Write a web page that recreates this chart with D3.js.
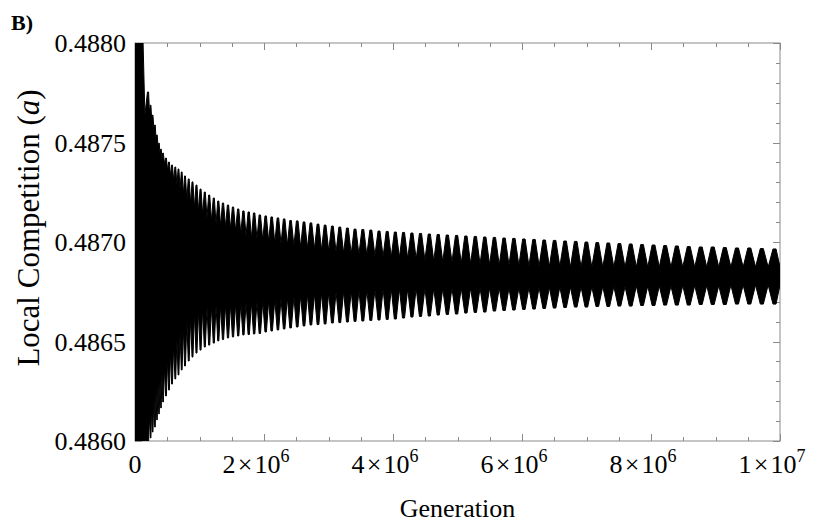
<!DOCTYPE html>
<html>
<head>
<meta charset="utf-8">
<script src="https://cdn.jsdelivr.net/npm/d3@7"></script>
<style>
  body { margin: 0; background: #fff; }
</style>
</head>
<body>
<div id="chart"></div>
<script>
// positions of the visible oscillation teeth, in millions of generations
var peakGen = [0.016, 0.054, 0.101, 0.206, 0.243, 0.274, 0.310, 0.341, 0.372, 0.403,
               0.434, 0.481, 0.527, 0.574, 0.625, 0.674, 0.724, 0.775, 0.833, 0.891,
               0.953, 1.016, 1.082, 1.150, 1.222, 1.291, 1.364, 1.442, 1.519, 1.600,
               1.681, 1.763, 1.847, 1.935, 2.026, 2.119, 2.216, 2.312, 2.412, 2.515,
               2.620, 2.727, 2.837, 2.947, 3.060, 3.175, 3.293, 3.411, 3.532, 3.656,
               3.783, 3.910, 4.036, 4.163, 4.293, 4.426, 4.563, 4.701, 4.842, 4.986,
               5.130, 5.276, 5.423, 5.572, 5.722, 5.874, 6.029, 6.186, 6.344, 6.505,
               6.668, 6.833, 6.998, 7.167, 7.338, 7.510, 7.685, 7.861, 8.039, 8.219,
               8.400, 8.585, 8.771, 8.957, 9.144, 9.333, 9.524, 9.718, 9.915];
// top of each tooth
var peakHi = [0.48830, 0.48825, 0.48815, 0.487754, 0.487688, 0.487638, 0.487588, 0.487538, 0.487497, 0.487467,
              0.487447, 0.487422, 0.487402, 0.487387, 0.487377, 0.487367, 0.487352, 0.487332, 0.487317, 0.487302,
              0.487286, 0.487266, 0.487251, 0.487236, 0.487221, 0.487206, 0.487196, 0.487186, 0.487176, 0.487166,
              0.487156, 0.487151, 0.487146, 0.487136, 0.487131, 0.487126, 0.487121, 0.487116, 0.487108, 0.487106,
              0.487101, 0.487096, 0.487090, 0.487085, 0.487080, 0.487075, 0.487070, 0.487065, 0.487063, 0.487060,
              0.487055, 0.487053, 0.487050, 0.487048, 0.487045, 0.487043, 0.487040, 0.487038, 0.487035, 0.487033,
              0.487030, 0.487028, 0.487025, 0.487023, 0.487020, 0.487018, 0.487015, 0.487013, 0.487010, 0.487008,
              0.487005, 0.487003, 0.487000, 0.486997, 0.486995, 0.486992, 0.486990, 0.486987, 0.486985, 0.486982,
              0.486980, 0.486977, 0.486975, 0.486975, 0.486972, 0.486970, 0.486970, 0.486967, 0.486965];
// bottom of each tooth
var peakLo = [0.48570, 0.48575, 0.48580, 0.485990, 0.486015, 0.486045, 0.486070, 0.486106, 0.486136, 0.486166,
              0.486196, 0.486226, 0.486256, 0.486286, 0.486312, 0.486332, 0.486357, 0.486377, 0.486402, 0.486422,
              0.486442, 0.486457, 0.486472, 0.486482, 0.486492, 0.486503, 0.486510, 0.486518, 0.486523, 0.486528,
              0.486533, 0.486535, 0.486538, 0.486540, 0.486548, 0.486553, 0.486558, 0.486563, 0.486568, 0.486573,
              0.486578, 0.486583, 0.486585, 0.486588, 0.486593, 0.486595, 0.486598, 0.486601, 0.486603, 0.486606,
              0.486608, 0.486611, 0.486613, 0.486618, 0.486623, 0.486626, 0.486628, 0.486633, 0.486636, 0.486638,
              0.486643, 0.486646, 0.486648, 0.486653, 0.486656, 0.486658, 0.486661, 0.486663, 0.486666, 0.486668,
              0.486671, 0.486673, 0.486673, 0.486676, 0.486676, 0.486678, 0.486678, 0.486681, 0.486681, 0.486683,
              0.486683, 0.486683, 0.486686, 0.486686, 0.486686, 0.486688, 0.486688, 0.486688, 0.486688];
// solid central band between one tooth and the next (upper / lower edge)
var bandHi = [0.488000, 0.488000, 0.487638, 0.487648, 0.487613, 0.487573, 0.487523, 0.487482, 0.487442, 0.487422,
              0.487392, 0.487362, 0.487332, 0.487307, 0.487286, 0.487266, 0.487236, 0.487211, 0.487191, 0.487171,
              0.487156, 0.487136, 0.487121, 0.487106, 0.487090, 0.487080, 0.487075, 0.487065, 0.487055, 0.487040,
              0.487030, 0.487020, 0.487015, 0.487010, 0.487003, 0.486995, 0.486990, 0.486985, 0.486980, 0.486975,
              0.486970, 0.486965, 0.486960, 0.486955, 0.486950, 0.486945, 0.486940, 0.486937, 0.486935, 0.486932,
              0.486927, 0.486925, 0.486922, 0.486917, 0.486915, 0.486910, 0.486905, 0.486902, 0.486900, 0.486894,
              0.486892, 0.486889, 0.486887, 0.486884, 0.486884, 0.486882, 0.486879, 0.486879, 0.486877, 0.486877,
              0.486874, 0.486874, 0.486874, 0.486874, 0.486874, 0.486874, 0.486874, 0.486874, 0.486874, 0.486874,
              0.486874, 0.486874, 0.486874, 0.486874, 0.486874, 0.486874, 0.486874, 0.486874, 0.486874];
var bandLo = [0.486000, 0.486000, 0.486000, 0.486131, 0.486181, 0.486216, 0.486246, 0.486276, 0.486307, 0.486337,
              0.486372, 0.486407, 0.486447, 0.486482, 0.486513, 0.486543, 0.486573, 0.486598, 0.486623, 0.486643,
              0.486658, 0.486668, 0.486673, 0.486678, 0.486681, 0.486683, 0.486686, 0.486688, 0.486691, 0.486693,
              0.486696, 0.486698, 0.486698, 0.486701, 0.486706, 0.486711, 0.486716, 0.486721, 0.486726, 0.486731,
              0.486736, 0.486741, 0.486744, 0.486746, 0.486749, 0.486751, 0.486754, 0.486756, 0.486759, 0.486761,
              0.486764, 0.486766, 0.486766, 0.486766, 0.486766, 0.486766, 0.486766, 0.486766, 0.486769, 0.486769,
              0.486769, 0.486769, 0.486769, 0.486769, 0.486769, 0.486769, 0.486771, 0.486771, 0.486771, 0.486774,
              0.486774, 0.486774, 0.486774, 0.486776, 0.486776, 0.486776, 0.486779, 0.486779, 0.486779, 0.486779,
              0.486781, 0.486781, 0.486781, 0.486781, 0.486784, 0.486784, 0.486784, 0.486784, 0.486784];

var xTicks     = [0, 2e6, 4e6, 6e6, 8e6, 1e7];
var xTickBase  = ["0", "2\u200a×\u200a10", "4\u200a×\u200a10", "6\u200a×\u200a10", "8\u200a×\u200a10", "1\u200a×\u200a10"];
var xTickExp   = ["", "6", "6", "6", "6", "7"];
var yTicks     = [0.4860, 0.4865, 0.4870, 0.4875, 0.4880];
var yTickLabels = ["0.4860", "0.4865", "0.4870", "0.4875", "0.4880"];

var W = 823, H = 525,
    pL = 135, pR = 780, pT = 43, pB = 441,
    font = "'Liberation Serif', 'Times New Roman', serif",
    frameColor = "#8a8a8a",
    toothTop = 0.12;   // half width of a tooth's flat top, as a share of the tooth spacing

var x = d3.scaleLinear().domain([0, 1e7]).range([pL, pR]),
    y = d3.scaleLinear().domain([0.4860, 0.4880]).range([pB, pT]);

var svg = d3.select("#chart").append("svg")
    .attr("width", W)
    .attr("height", H);

svg.append("clipPath").attr("id", "plotclip")
  .append("rect")
    .attr("x", pL).attr("y", pT)
    .attr("width", pR - pL).attr("height", pB - pT);

/* frame */
svg.append("rect")
    .attr("x", pL).attr("y", pT)
    .attr("width", pR - pL).attr("height", pB - pT)
    .attr("fill", "none")
    .attr("stroke", frameColor)
    .attr("stroke-width", 1);

/* ticks on all four sides, pointing inward */
var xMinor = d3.range(0, 21).map(function(i) { return i * 5e5; }),
    yMinor = d3.range(0, 21).map(function(i) { return 0.4860 + i * 0.0001; });

var tk = svg.append("g").attr("stroke", frameColor).attr("stroke-width", 1);
xMinor.forEach(function(v, i) {
  var len = i % 4 === 0 ? 7 : 4, px = Math.round(x(v)) + 0.5;
  tk.append("line").attr("x1", px).attr("x2", px).attr("y1", pB).attr("y2", pB - len);
  tk.append("line").attr("x1", px).attr("x2", px).attr("y1", pT).attr("y2", pT + len);
});
yMinor.forEach(function(v, i) {
  var len = i % 5 === 0 ? 7 : 4, py = Math.round(y(v)) + 0.5;
  tk.append("line").attr("x1", pL).attr("x2", pL + len).attr("y1", py).attr("y2", py);
  tk.append("line").attr("x1", pR).attr("x2", pR - len).attr("y1", py).attr("y2", py);
});

/* outline: each tooth (short flat top) followed by the band valley before the next one */
var gens = peakGen.map(function(p) { return p * 1e6; }),
    n = gens.length;
var pts = [{g: 0, hi: peakHi[0], lo: peakLo[0]}];
gens.forEach(function(g, i) {
  var sL = i > 0 ? g - gens[i - 1] : gens[1] - g,
      sR = i < n - 1 ? gens[i + 1] - g : sL;
  pts.push({g: g - toothTop * sL, hi: peakHi[i], lo: peakLo[i]});
  pts.push({g: g + toothTop * sR, hi: peakHi[i], lo: peakLo[i]});
  pts.push({g: i < n - 1 ? g + sR / 2 : 1e7, hi: bandHi[i], lo: bandLo[i]});
});

var plot = svg.append("g").attr("clip-path", "url(#plotclip)");

plot.append("path")
    .datum(pts)
    .attr("d", d3.area()
      .x(function(d) { return x(d.g); })
      .y0(function(d) { return y(d.lo); })
      .y1(function(d) { return y(d.hi); }))
    .attr("fill", "#000");

["hi", "lo"].forEach(function(k) {
  plot.append("path")
      .datum(pts)
      .attr("d", d3.line()
        .x(function(d) { return x(d.g); })
        .y(function(d) { return y(d[k]); }))
      .attr("fill", "none")
      .attr("stroke", "#000")
      .attr("stroke-width", 1)
      .attr("stroke-linejoin", "round");
});

/* tick labels */
svg.selectAll(".ylabel")
    .data(yTicks)
  .enter().append("text")
    .attr("class", "ylabel")
    .attr("x", pL - 9)
    .attr("y", function(d) { return y(d); })
    .attr("dy", "0.35em")
    .attr("text-anchor", "end")
    .style("font", "26px " + font)
    .text(function(d, i) { return yTickLabels[i]; });

var xl = svg.selectAll(".xlabel")
    .data(xTicks)
  .enter().append("text")
    .attr("class", "xlabel")
    .attr("x", function(d, i) { return x(d) - (i ? 8 : 0); })
    .attr("y", 473)
    .attr("text-anchor", "middle")
    .style("font", "26px " + font);
xl.append("tspan").text(function(d, i) { return xTickBase[i]; });
xl.append("tspan")
    .attr("dy", -11)
    .style("font-size", "18px")
    .text(function(d, i) { return xTickExp[i]; });

/* axis titles */
svg.append("text")
    .attr("x", (pL + pR) / 2)
    .attr("y", 517)
    .attr("text-anchor", "middle")
    .style("font", "26px " + font)
    .text("Generation");

var yt = svg.append("text")
    .attr("transform", "translate(39,228) rotate(-90)")
    .attr("text-anchor", "middle")
    .style("font", "31px " + font);
yt.append("tspan").text("Local Competition (");
yt.append("tspan").style("font-style", "italic").text("a");
yt.append("tspan").text(")");

svg.append("text")
    .attr("x", 11)
    .attr("y", 30)
    .style("font", "bold 22px " + font)
    .text("B)");
</script>
</body>
</html>
